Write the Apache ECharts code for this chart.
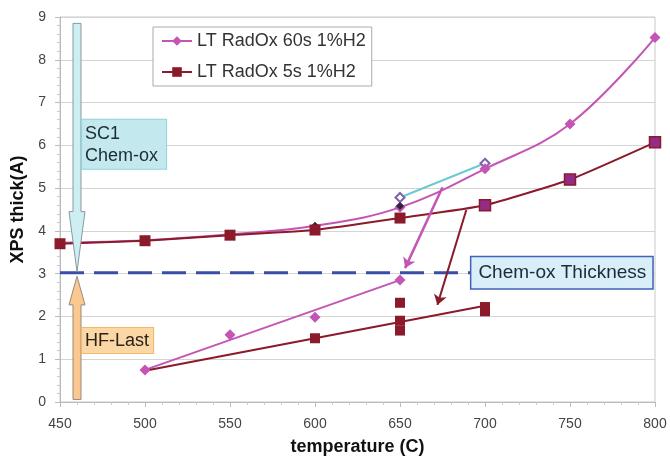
<!DOCTYPE html>
<html>
<head>
<meta charset="utf-8">
<script src="https://cdn.jsdelivr.net/npm/echarts@6/dist/echarts.min.js"></script>
<style>
  html, body { margin: 0; padding: 0; background: #fff; }
  #chart { width: 670px; height: 456px; }
</style>
</head>
<body>
<div id="chart"></div>
<script>
const FONT = 'Liberation Sans, Arial, sans-serif';

// upper curves (both processes)
const temps = [450, 500, 550, 600, 650, 700, 750, 800];
const upper60 = [3.72, 3.78, 3.92, 4.12, 4.55, 5.45, 6.5, 8.52];
const upper5 = [3.7, 3.77, 3.9, 4.02, 4.3, 4.6, 5.2, 6.07];

// lower (HF-last) points and their fit lines
const lower60Temps = [500, 550, 600, 650];
const lower60 = [0.75, 1.57, 1.98, 2.85];
const lower60FitTemps = [500, 650];
const lower60Fit = [0.75, 2.85];
const lower5Temps = [600, 650, 650, 650, 700, 700];
const lower5 = [1.49, 2.32, 1.9, 1.67, 2.22, 2.12];
const lower5FitTemps = [500, 700];
const lower5Fit = [0.73, 2.25];

// extra markers
const openTemps = [650, 700];
const openVals = [4.78, 5.58];
const darkTemps = [500, 600, 650];
const darkVals = [3.8, 4.12, 4.58];

// chem-ox reference level
const chemOxTemps = [450, 692];
const chemOxLevel = 3.02;

// arrows [from, to]
const pinkArrow = [[675, 5.02], [653, 3.13]];
const redArrow = [[689, 4.49], [672, 2.27]];

const xTicks = [450, 500, 550, 600, 650, 700, 750, 800];
const yTicks = [0, 1, 2, 3, 4, 5, 6, 7, 8, 9];

const PINK = '#c455b5';
const RED = '#8b1a2a';
const PURPLE = '#932c86';

const zip = (xs, ys) => xs.map((x, i) => [x, ys[i]]);

const chart = echarts.init(document.getElementById('chart'));

const option = {
  backgroundColor: '#fff',
  animation: false,
  grid: {
    left: 60, right: 15, top: 17, bottom: 54,
    outerBoundsMode: 'none',
    show: true, borderColor: '#c8c8c8', borderWidth: 1,
  },
  legend: {
    left: 153, top: 27,
    orient: 'vertical',
    backgroundColor: '#fff',
    borderColor: '#aaa',
    borderWidth: 1,
    padding: [5, 6, 5, 8],
    itemGap: 13,
    itemWidth: 30,
    itemHeight: 12,
    textStyle: { fontFamily: FONT, fontSize: 18, color: '#333' },
    data: ['LT RadOx 60s 1%H2', 'LT RadOx 5s 1%H2'],
  },
  xAxis: {
    type: 'value',
    min: xTicks[0], max: xTicks[xTicks.length - 1], interval: 50,
    name: 'temperature (C)',
    nameLocation: 'middle',
    nameGap: 36,
    nameTextStyle: { fontFamily: FONT, fontSize: 18, fontWeight: 'bold', color: '#111' },
    axisLine: { lineStyle: { color: '#bbb' } },
    axisTick: { show: true, length: 5, lineStyle: { color: '#bbb' } },
    minorTick: { show: true, splitNumber: 5, length: 3, lineStyle: { color: '#ccc' } },
    splitLine: { show: false },
    axisLabel: { fontFamily: FONT, fontSize: 14, color: '#444', margin: 15 },
  },
  yAxis: {
    type: 'value',
    min: yTicks[0], max: yTicks[yTicks.length - 1], interval: 1,
    name: 'XPS thick(A)',
    nameLocation: 'middle',
    nameGap: 30,
    nameTextStyle: { fontFamily: FONT, fontSize: 18, fontWeight: 'bold', color: '#111' },
    axisLine: { show: true, lineStyle: { color: '#bbb' } },
    axisTick: { show: true, length: 5, lineStyle: { color: '#bbb' } },
    minorTick: { show: true, splitNumber: 5, length: 3, lineStyle: { color: '#ccc' } },
    splitLine: { lineStyle: { color: '#d4d4d4' } },
    axisLabel: { fontFamily: FONT, fontSize: 14, color: '#444', margin: 14 },
  },
  series: [
    {
      name: 'chemox',
      type: 'line',
      data: zip(chemOxTemps, chemOxTemps.map(() => chemOxLevel)),
      symbol: 'none',
      lineStyle: { color: '#3a4ea6', width: 3, type: [24, 10] },
      endLabel: {
        show: true, distance: 0,
        formatter: 'Chem-ox Thickness',
        fontFamily: FONT, fontSize: 19, color: '#1c2a38',
        backgroundColor: '#d8eef8', borderColor: '#3f62b8', borderWidth: 1.5,
        padding: [6, 6, 6, 7],
      },
      z: 1,
    },
    {
      name: 'LT RadOx 60s 1%H2',
      type: 'line',
      data: zip(temps, upper60),
      smooth: 0.4,
      symbol: 'diamond',
      symbolSize: (v, p) => (p.dataIndex >= 4 ? 11 : 0),
      itemStyle: { color: PINK },
      lineStyle: { color: PINK, width: 2 },
      z: 3,
    },
    {
      name: 'prev',
      type: 'line',
      data: zip(openTemps, openVals),
      symbol: 'emptyDiamond',
      symbolSize: 9,
      itemStyle: { color: '#7d62a8', borderWidth: 1.2 },
      lineStyle: { color: '#6ccad2', width: 2 },
      z: 2,
    },
    {
      name: 'dark',
      type: 'scatter',
      data: zip(darkTemps, darkVals),
      symbol: 'diamond',
      symbolSize: 8,
      itemStyle: { color: '#2c2440', opacity: 1 },
      z: 3,
    },
    {
      name: 'LT RadOx 5s 1%H2',
      type: 'line',
      data: zip(temps, upper5).map((p, i) => i >= 5 ? {
        value: p, itemStyle: { color: PURPLE, borderColor: RED, borderWidth: 1.5 },
      } : p),
      smooth: 0.15,
      symbol: 'rect',
      symbolSize: 11,
      itemStyle: { color: RED },
      lineStyle: { color: RED, width: 2 },
      z: 4,
      markLine: {
        silent: true,
        symbol: ['none', 'arrow'],
        symbolSize: 10,
        label: { show: false },
        lineStyle: { color: RED, width: 2, type: 'solid' },
        data: [[{ coord: redArrow[0] }, { coord: redArrow[1] }]],
      },
    },
    {
      name: 'lower60fit',
      type: 'line',
      data: zip(lower60FitTemps, lower60Fit),
      symbol: 'none',
      lineStyle: { color: PINK, width: 2 },
      z: 3,
      markLine: {
        silent: true,
        symbol: ['none', 'arrow'],
        symbolSize: 10,
        label: { show: false },
        lineStyle: { color: PINK, width: 2.5, type: 'solid' },
        data: [[{ coord: pinkArrow[0] }, { coord: pinkArrow[1] }]],
      },
    },
    {
      name: 'lower60',
      type: 'scatter',
      data: zip(lower60Temps, lower60),
      symbol: 'diamond',
      symbolSize: 11,
      itemStyle: { color: PINK, opacity: 1 },
      z: 4,
    },
    {
      name: 'lower5fit',
      type: 'line',
      data: zip(lower5FitTemps, lower5Fit),
      symbol: 'none',
      lineStyle: { color: RED, width: 2 },
      z: 3,
    },
    {
      name: 'lower5',
      type: 'scatter',
      data: zip(lower5Temps, lower5),
      symbol: 'rect',
      symbolSize: 10,
      itemStyle: { color: RED, opacity: 1 },
      z: 4,
    },
  ],
};

chart.setOption(option);

// left-side annotation arrows and boxes, placed in data coordinates
const px = (x, y) => chart.convertToPixel({ gridIndex: 0 }, [x, y]);
const arrowX = 460;
const downTop = px(arrowX, 8.85), downHead = px(arrowX, 4.45), downTip = px(arrowX, 3.05);
const upTip = px(arrowX, 2.94), upHead = px(arrowX, 2.27), upBottom = px(arrowX, 0.06);
const sw = 4, hw = 8;
const sc1Box = px(463, 6.6);
const hfBox = px(463, 1.73);

chart.setOption({
  graphic: [
    {
      type: 'polygon', z: 10,
      shape: { points: [
        [downTop[0] - sw, downTop[1]], [downTop[0] + sw, downTop[1]],
        [downTop[0] + sw, downHead[1]], [downTop[0] + hw, downHead[1]],
        [downTip[0], downTip[1]],
        [downTop[0] - hw, downHead[1]], [downTop[0] - sw, downHead[1]],
      ] },
      style: { fill: '#cdeef3', stroke: '#8a9a9e', lineWidth: 1 },
    },
    {
      type: 'polygon', z: 10,
      shape: { points: [
        [upTip[0], upTip[1]],
        [upTip[0] + hw, upHead[1]], [upTip[0] + sw, upHead[1]],
        [upTip[0] + sw, upBottom[1]], [upTip[0] - sw, upBottom[1]],
        [upTip[0] - sw, upHead[1]], [upTip[0] - hw, upHead[1]],
      ] },
      style: { fill: '#fbc892', stroke: '#9a8a7a', lineWidth: 1 },
    },
    {
      type: 'text', z: 11,
      x: sc1Box[0], y: sc1Box[1],
      style: {
        text: 'SC1\nChem-ox', font: '18px ' + FONT, fill: '#1d2b33', lineHeight: 22,
        backgroundColor: '#c3e9ef', borderColor: '#8fd4de', borderWidth: 1,
        padding: [3, 8, 2, 3],
      },
    },
    {
      type: 'text', z: 11,
      x: hfBox[0], y: hfBox[1],
      style: {
        text: 'HF-Last', font: '18px ' + FONT, fill: '#2b2118',
        backgroundColor: '#fcd7a6', borderColor: '#f4b868', borderWidth: 1,
        padding: [4, 4, 3, 3],
      },
    },
  ],
});
</script>
</body>
</html>
